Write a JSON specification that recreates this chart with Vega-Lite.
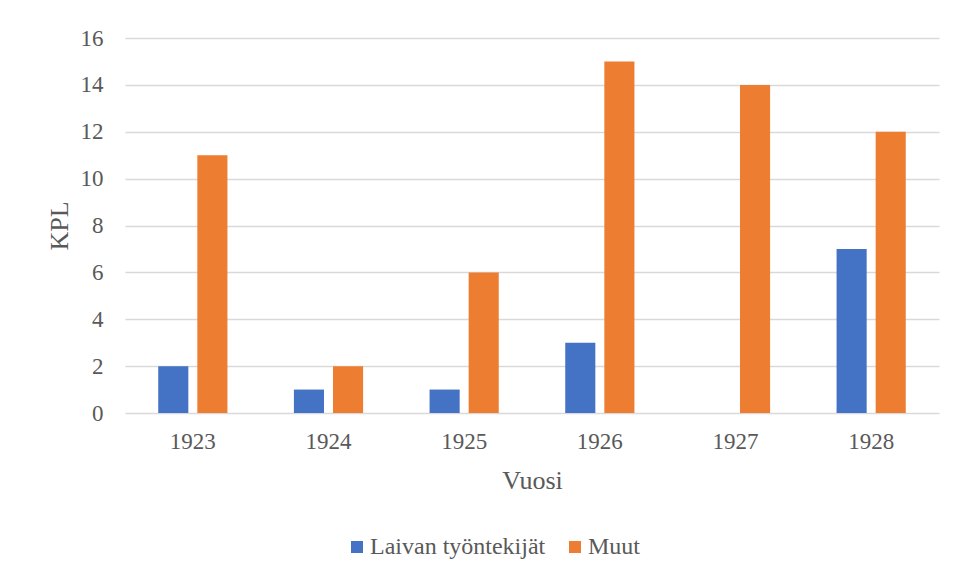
{
  "$schema": "https://vega.github.io/schema/vega-lite/v6.json",
  "width": 814,
  "height": 375,
  "autosize": {"type": "none"},
  "padding": {"left": 125, "top": 38, "right": 20, "bottom": 168},
  "background": "white",
  "data": {
    "values": [
      {"Vuosi": "1923", "Sarja": "Laivan työntekijät", "KPL": 2},
      {"Vuosi": "1923", "Sarja": "Muut", "KPL": 11},
      {"Vuosi": "1924", "Sarja": "Laivan työntekijät", "KPL": 1},
      {"Vuosi": "1924", "Sarja": "Muut", "KPL": 2},
      {"Vuosi": "1925", "Sarja": "Laivan työntekijät", "KPL": 1},
      {"Vuosi": "1925", "Sarja": "Muut", "KPL": 6},
      {"Vuosi": "1926", "Sarja": "Laivan työntekijät", "KPL": 3},
      {"Vuosi": "1926", "Sarja": "Muut", "KPL": 15},
      {"Vuosi": "1927", "Sarja": "Laivan työntekijät", "KPL": 0},
      {"Vuosi": "1927", "Sarja": "Muut", "KPL": 14},
      {"Vuosi": "1928", "Sarja": "Laivan työntekijät", "KPL": 7},
      {"Vuosi": "1928", "Sarja": "Muut", "KPL": 12}
    ]
  },
  "mark": {"type": "bar"},
  "encoding": {
    "x": {
      "field": "Vuosi",
      "type": "nominal",
      "scale": {"paddingInner": 0.49, "paddingOuter": 0.245},
      "axis": {
        "labelAngle": 0,
        "domain": false,
        "ticks": false,
        "tickSize": 0,
        "labelPadding": 17,
        "labelFont": "Liberation Serif",
        "labelFontSize": 23,
        "labelColor": "#595959",
        "title": "Vuosi",
        "titleFont": "Liberation Serif",
        "titleFontSize": 26,
        "titleFontWeight": "normal",
        "titleColor": "#595959",
        "titleBaseline": "alphabetic",
        "titleY": 75,
        "titleX": 407
      }
    },
    "xOffset": {
      "field": "Sarja",
      "type": "nominal",
      "scale": {"paddingInner": 0.23, "paddingOuter": 0}
    },
    "y": {
      "field": "KPL",
      "type": "quantitative",
      "scale": {"domain": [0, 16], "nice": false},
      "axis": {
        "values": [0, 2, 4, 6, 8, 10, 12, 14, 16],
        "domain": false,
        "ticks": false,
        "tickSize": 0,
        "labelPadding": 22,
        "grid": true,
        "gridColor": "#d9d9d9",
        "gridWidth": 1.3,
        "labelFont": "Liberation Serif",
        "labelFontSize": 23,
        "labelColor": "#595959",
        "title": "KPL",
        "titleFont": "Liberation Serif",
        "titleFontSize": 26,
        "titleFontWeight": "normal",
        "titleColor": "#595959",
        "titleBaseline": "alphabetic",
        "titleAngle": -90,
        "titleX": -58,
        "titleY": 187.5
      }
    },
    "color": {
      "field": "Sarja",
      "type": "nominal",
      "scale": {
        "domain": ["Laivan työntekijät", "Muut"],
        "range": ["#4472C4", "#ED7D31"]
      },
      "legend": {
        "title": null,
        "orient": "none",
        "direction": "horizontal",
        "legendX": 220,
        "legendY": 497,
        "padding": 0,
        "symbolType": "square",
        "symbolSize": 144,
        "symbolStrokeWidth": 0,
        "labelFont": "Liberation Serif",
        "labelFontSize": 24,
        "labelColor": "#595959",
        "labelOffset": 1,
        "columnPadding": 17,
        "labelLimit": 400
      }
    }
  },
  "config": {
    "font": "Liberation Serif",
    "view": {"stroke": null}
  }
}
